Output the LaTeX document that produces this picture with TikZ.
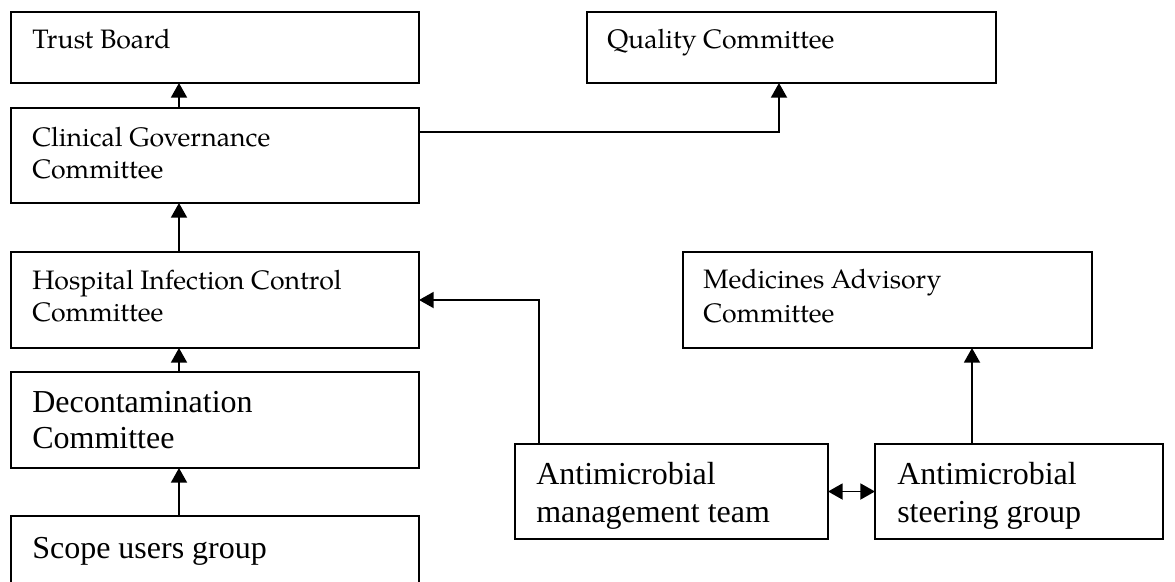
\documentclass[tikz,border=0pt]{standalone}
\usepackage{fontspec}
\setmainfont{Liberation Serif}
\newfontfamily\tnr{Liberation Serif}
\newfontfamily\palfont{texgyrepagella}[Extension=.otf, UprightFont=*-regular, BoldFont=*-bold, ItalicFont=*-italic]
\usetikzlibrary{arrows.meta,calc}
\tikzset{
  box/.style={draw, line width=1.5pt, anchor=north west, inner sep=0pt, outer sep=0pt},
  pal/.style={font=\palfont\fontsize{20}{24}\selectfont, anchor=base west, inner sep=0pt},
  tim/.style={font=\tnr\fontsize{24}{28}\selectfont, anchor=base west, inner sep=0pt},
  conn/.style={line width=1.4pt, -{Triangle[length=11pt,width=12pt]}},
  dconn/.style={line width=1.4pt, {Triangle[length=11pt,width=12pt]}-{Triangle[length=11pt,width=12pt]}},
}
\begin{document}
\begin{tikzpicture}[x=0.75pt,y=-0.75pt]
\useasboundingbox (0,0) rectangle (1175,582);
\clip (0,0) rectangle (1175,582);
% boxes
\node[box, minimum width=408*0.75pt, minimum height=71*0.75pt] (tb) at (11,12) {};
\node[box, minimum width=408*0.75pt, minimum height=95*0.75pt] (cg) at (11,108) {};
\node[box, minimum width=408*0.75pt, minimum height=96*0.75pt] (hicc) at (11,252) {};
\node[box, minimum width=408*0.75pt, minimum height=96*0.75pt] (dec) at (11,372) {};
\node[box, minimum width=408*0.75pt, minimum height=90*0.75pt] (scope) at (11,516) {};
\node[box, minimum width=409*0.75pt, minimum height=71*0.75pt] (qc) at (587,12) {};
\node[box, minimum width=409*0.75pt, minimum height=96*0.75pt] (mac) at (683,252) {};
\node[box, minimum width=313*0.75pt, minimum height=95*0.75pt] (amt) at (515,444) {};
\node[box, minimum width=288*0.75pt, minimum height=95*0.75pt] (asg) at (875,444) {};
% texts
\node[pal] (tbt) at (32,48) {Trust Board};
\node[pal] (cgt1) at (32,146) {Clinical Governance};
\node[pal] (cgt2) at (32,178) {Committee};
\node[pal] (hit1) at (32,289) {Hospital Infection Control};
\node[pal] (hit2) at (32,321) {Committee};
\node[tim] (det1) at (32,412) {Decontamination};
\node[tim] (det2) at (32,448) {Committee};
\node[tim] (sct) at (32,558) {Scope users group};
\node[pal] (qct) at (607,48) {Quality Committee};
\node[pal] (mat1) at (703,288) {Medicines Advisory};
\node[pal] (mat2) at (703,322) {Committee};
\node[tim] (amt1) at (536,484) {Antimicrobial};
\node[tim] (amt2) at (536,522) {management team};
\node[tim] (ast1) at (897,484) {Antimicrobial};
\node[tim] (ast2) at (897,522) {steering group};
% connectors
\coordinate (ax) at (179,0);
\coordinate (qx) at (779,0);
\draw[conn] (cg.north -| ax) -- (tb.south -| ax);
\draw[conn] (hicc.north -| ax) -- (cg.south -| ax);
\draw[conn] (dec.north -| ax) -- (hicc.south -| ax);
\draw[conn] (scope.north -| ax) -- (dec.south -| ax);
\draw[conn] ($(cg.north east)+(0,24)$) -| (qc.south -| qx);
\draw[conn] ($(amt.north west)+(24,0)$) |- (hicc.east);
\draw[conn] ($(asg.north west)+(97,0)$) coordinate (s1) -- (mac.south -| s1);
\draw[dconn] (amt.east) -- (asg.west);
\end{tikzpicture}
\end{document}
